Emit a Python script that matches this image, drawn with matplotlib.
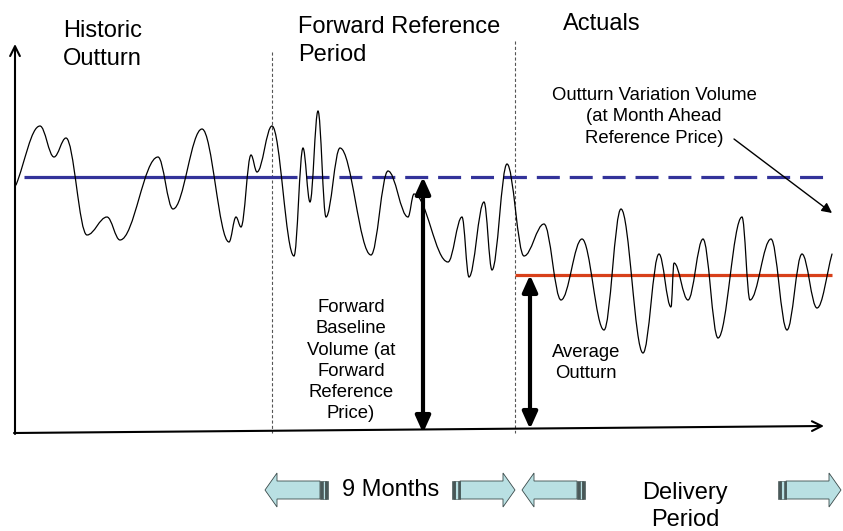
import matplotlib
matplotlib.use("Agg")
import matplotlib.pyplot as plt
from matplotlib.path import Path
from matplotlib.patches import PathPatch, Polygon, Rectangle

plt.rcParams["font.family"] = ["Liberation Sans", "DejaVu Sans"]

# outturn curve: turning points (x = time, y = picture rows, down is lower volume)
curve_x = [16, 40, 54, 66, 87, 107, 120, 158, 173, 202, 229, 236, 241, 251, 257, 272,
           294, 303, 310, 318, 326, 340, 371, 388, 408, 414, 448, 462, 469, 484, 492,
           507, 524, 544, 561, 582, 604, 621, 643, 659, 671, 674, 688, 703, 718, 742,
           750, 771, 787, 802, 817, 832]
curve_y = [185, 126, 157, 138, 235, 217, 240, 157, 209, 129, 242, 217, 227, 155, 172, 126,
           256, 148, 202, 111, 217, 148, 255, 171, 217, 194, 262, 217, 277, 202, 270,
           164, 256, 224, 300, 239, 330, 209, 353, 254, 307, 263, 300, 239, 338, 217,
           300, 239, 330, 254, 308, 254]

baseline_level = 177      # forward baseline volume
average_level = 275       # average outturn in delivery period
axis_zero = 433
period_bounds = [272, 515]  # start of forward reference period, start of actuals

BLUE = "#33339A"
RED = "#D8401A"
ARROW_FILL = "#B9E0E3"
ARROW_EDGE = "#3A4A4A"

fig = plt.figure(figsize=(8.43, 5.31), dpi=100)
ax = fig.add_axes([0, 0, 1, 1])
ax.set_xlim(0, 843)
ax.set_ylim(531, 0)
ax.axis("off")

# smooth curve through turning points (horizontal tangents at each extremum)
k = 0.37
verts = [(curve_x[0], curve_y[0])]
codes = [Path.MOVETO]
last = len(curve_x) - 2
for i in range(len(curve_x) - 1):
    x0, y0, x1, y1 = curve_x[i], curve_y[i], curve_x[i + 1], curve_y[i + 1]
    dx, dy = x1 - x0, y1 - y0
    c1 = (x0 + k * dx, y0 + (k * dy if i == 0 else 0))
    c2 = (x1 - k * dx, y1 - (k * dy if i == last else 0))
    verts += [c1, c2, (x1, y1)]
    codes += [Path.CURVE4] * 3
ax.add_patch(PathPatch(Path(verts, codes), fill=False, lw=0.9, edgecolor="black",
                       capstyle="round", zorder=3))

# baseline (solid over history, dashed forward) and average outturn
ax.plot([24, 297], [baseline_level] * 2, color=BLUE, lw=2.3, solid_capstyle="butt", zorder=2)
ax.plot([306, 824], [baseline_level] * 2, color=BLUE, lw=2.3, dash_capstyle="butt",
        linestyle=(0, (7.2, 3.1)), zorder=2)
ax.plot([515, 832], [average_level] * 2, color=RED, lw=2.3, solid_capstyle="butt", zorder=2)

# period separators
for xb, top in zip(period_bounds, [52, 41]):
    ax.plot([xb, xb], [top, axis_zero], color="#555555", lw=0.8,
            linestyle=(0, (2.8, 2.0)), zorder=1)

# axes
ax.annotate("", xy=(15, 44), xytext=(15, axis_zero + 1),
            arrowprops=dict(arrowstyle="->,head_length=0.7,head_width=0.35",
                            lw=1.5, color="black", shrinkA=0, shrinkB=0))
ax.annotate("", xy=(824, 426), xytext=(14, axis_zero),
            arrowprops=dict(arrowstyle="->,head_length=0.7,head_width=0.35",
                            lw=1.5, color="black", shrinkA=0, shrinkB=0))

# volume arrows
for xa, ytop, ybot in [(423, baseline_level, axis_zero), (530, average_level, 429)]:
    ax.annotate("", xy=(xa, ytop), xytext=(xa, ybot),
                arrowprops=dict(arrowstyle="<|-|>,head_length=1.0,head_width=0.45",
                                mutation_scale=10, lw=3, color="black",
                                shrinkA=0, shrinkB=0), zorder=4)

ax.annotate("", xy=(832, 213), xytext=(734, 139),
            arrowprops=dict(arrowstyle="-|>,head_length=0.6,head_width=0.3",
                            mutation_scale=10, lw=1.0, color="black",
                            shrinkA=0, shrinkB=0))


def block_arrow(tip, tail, yc, direction):
    # striped block arrow, direction +1 right, -1 left
    s = direction
    head = 12
    body_end = tail - s * 8
    pts = [(tip, yc), (tip - s * head, yc - 17), (tip - s * head, yc - 9),
           (body_end, yc - 9), (body_end, yc + 9), (tip - s * head, yc + 9),
           (tip - s * head, yc + 17)]
    ax.add_patch(Polygon(pts, closed=True, facecolor=ARROW_FILL, edgecolor=ARROW_EDGE,
                         lw=0.6, zorder=3))
    for off, w, fc in [(0.3, 2.2, "#4A5A5A"), (2.5, 2.2, ARROW_FILL), (4.7, 1.3, "#4A5A5A"),
                       (6.0, 2.0, "#4A5A5A")]:
        x0 = body_end - s * off
        ax.add_patch(Rectangle((min(x0, x0 - s * w), yc - 9), w, 18,
                               facecolor=fc, edgecolor=ARROW_EDGE, lw=0.4, zorder=3))


block_arrow(265, 312, 490, -1)
block_arrow(515, 468, 490, 1)
block_arrow(522, 569, 490, -1)
block_arrow(841, 794, 490, 1)

big = 17
small = 13.3
ax.text(63, 20, "Historic\nOutturn", fontsize=big, va="top", ha="left", linespacing=1.35)
ax.text(298, 16, "Forward Reference\nPeriod", fontsize=big, va="top", ha="left",
        linespacing=1.35)
ax.text(563, 13, "Actuals", fontsize=big, va="top", ha="left")
ax.text(654, 87, "Outturn Variation Volume\n(at Month Ahead\nReference Price)",
        fontsize=small, va="top", ha="center", multialignment="center", linespacing=1.33)
ax.text(351, 299, "Forward\nBaseline\nVolume (at\nForward\nReference\nPrice)",
        fontsize=small, va="top", ha="center", multialignment="center", linespacing=1.33)
ax.text(586, 344, "Average\nOutturn", fontsize=small, va="top", ha="center",
        multialignment="center", linespacing=1.33)
ax.text(342, 490, "9 Months", fontsize=big, va="center", ha="left")
ax.text(685, 482, "Delivery\nPeriod", fontsize=big, va="top", ha="center",
        multialignment="center", linespacing=1.3)

fig.savefig("out.png", dpi=100)
